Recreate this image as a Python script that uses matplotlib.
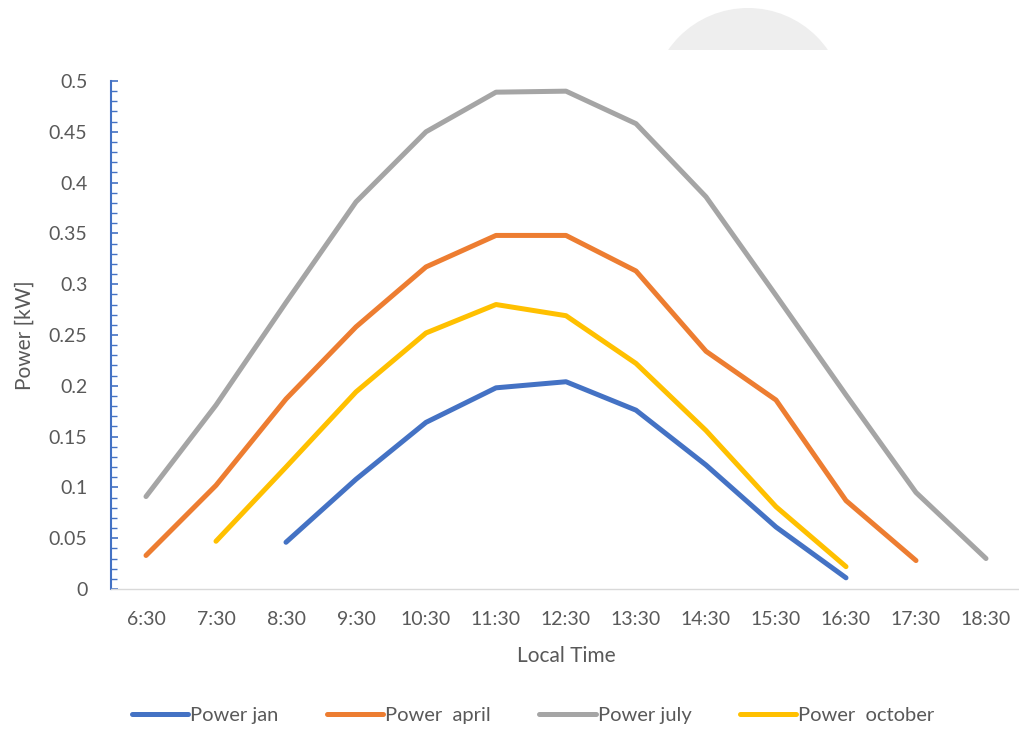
import matplotlib
matplotlib.use("Agg")
import matplotlib.pyplot as plt
from matplotlib.patches import Circle, Rectangle
from matplotlib.ticker import MultipleLocator
import numpy as np

# Hourly power output per month
times = ["6:30", "7:30", "8:30", "9:30", "10:30", "11:30", "12:30",
         "13:30", "14:30", "15:30", "16:30", "17:30", "18:30"]

power_jan = [None, None, 0.046, 0.108, 0.164, 0.198, 0.204, 0.176, 0.122, 0.061, 0.011, None, None]
power_april = [0.033, 0.102, 0.187, 0.258, 0.317, 0.348, 0.348, 0.313, 0.234, 0.186, 0.087, 0.028, None]
power_july = [0.091, 0.181, 0.282, 0.381, 0.450, 0.489, 0.490, 0.458, 0.386, 0.289, 0.191, 0.095, 0.030]
power_october = [None, 0.047, 0.120, 0.194, 0.252, 0.280, 0.269, 0.222, 0.156, 0.081, 0.022, None, None]

series = [
    ("Power jan", power_jan, "#4472C4"),
    ("Power  april", power_april, "#ED7D31"),
    ("Power july", power_july, "#A5A5A5"),
    ("Power  october", power_october, "#FFC000"),
]

plt.rcParams["font.family"] = ["Lato", "DejaVu Sans"]
text_color = "#595959"

W, H = 1019, 729
fig = plt.figure(figsize=(W / 100, H / 100), dpi=100)

# decorative grey dome at the top
deco = fig.add_axes([0, 0, 1, 1], zorder=0)
deco.set_xlim(0, W)
deco.set_ylim(H, 0)
deco.axis("off")
clip = Rectangle((600, 0), 300, 50, transform=deco.transData)
dome = Circle((748, 105), 97, facecolor="#EEEEEE", edgecolor="none")
deco.add_patch(dome)
dome.set_clip_path(clip)

ax = fig.add_axes([111 / W, (H - 589) / H, 910 / W, 508 / H], zorder=1)
ax.patch.set_alpha(0)

x = np.arange(len(times))
for label, vals, color in series:
    y = np.array([np.nan if v is None else v for v in vals], dtype=float)
    ax.plot(x, y, color=color, lw=3.6, label=label,
            solid_capstyle="round", solid_joinstyle="round")

ax.set_xlim(-0.5, len(times) - 0.5)
ax.set_ylim(0, 0.5)
ax.set_xticks(x)
ax.set_xticklabels(times)
ax.yaxis.set_minor_locator(MultipleLocator(0.01))
ax.set_yticks(np.round(np.arange(0, 0.501, 0.05), 2))
ax.set_yticklabels(["0", "0.05", "0.1", "0.15", "0.2", "0.25", "0.3",
                    "0.35", "0.4", "0.45", "0.5"])

for s in ["top", "right"]:
    ax.spines[s].set_visible(False)
ax.spines["left"].set_color("#4472C4")
ax.spines["left"].set_linewidth(1.5)
ax.spines["bottom"].set_color("#D9D9D9")
ax.spines["bottom"].set_linewidth(1.0)

ax.tick_params(axis="y", which="major", direction="in", length=5, width=1.2,
               color="#4472C4", labelsize=14, labelcolor=text_color, pad=17)
ax.tick_params(axis="y", which="minor", direction="in", length=4, width=1.0,
               color="#4472C4")
ax.tick_params(axis="x", which="both", length=0, labelsize=14,
               labelcolor=text_color, pad=16)

ax.set_xlabel("Local Time", fontsize=15, color=text_color, labelpad=13)
ax.set_ylabel("Power [kW]", fontsize=15, color=text_color, labelpad=10)

fig.legend(loc="center", bbox_to_anchor=(533 / W, (H - 715) / H), ncol=4,
           frameon=False, fontsize=14.5, labelcolor=text_color,
           handlelength=2.8, handletextpad=0.1, columnspacing=2.4)

fig.savefig("out.png", dpi=100)
